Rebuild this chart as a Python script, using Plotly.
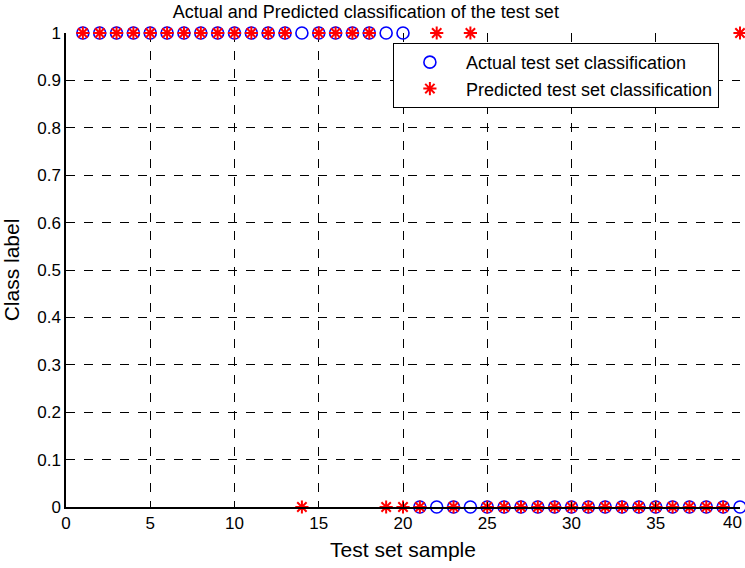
import plotly.graph_objects as go

samples = list(range(1, 41))
actual = [1] * 20 + [0] * 20
predicted = [1] * 13 + [0] + [1] * 4 + [0, 0, 0, 1, 0, 1] + [0] * 15 + [1]

x_ticks = list(range(0, 41, 5))
x_tick_labels = ["0", "5", "10", "15", "20", "25", "30", "35", "40"]
y_ticks = [round(i * 0.1, 1) for i in range(11)]
y_tick_labels = ["0", "0.1", "0.2", "0.3", "0.4", "0.5", "0.6", "0.7", "0.8", "0.9", "1"]

fig = go.Figure()
fig.add_trace(go.Scatter(
    x=samples, y=actual, mode="markers", name="Actual test set classification",
    marker=dict(symbol="circle-open", size=12, color="#0000ff", line=dict(width=1.6, color="#0000ff")),
    cliponaxis=False,
))
fig.add_trace(go.Scatter(
    x=samples, y=predicted, mode="markers", name="Predicted test set classification",
    marker=dict(symbol="asterisk-open", size=11, color="#ff0000", line=dict(width=2, color="#ff0000")),
    cliponaxis=False,
))

font = "Liberation Sans, Arial, sans-serif"
axis_common = dict(
    showgrid=True, gridcolor="black", griddash="dash", gridwidth=1,
    showline=True, linecolor="black", linewidth=1.5,
    ticks="inside", ticklen=5, tickcolor="black", tickwidth=1,
    zeroline=False, automargin=False,
    tickfont=dict(size=17, color="black", family=font),
)
# last x tick label is placed right-aligned (as in the reference) so it stays inside the page
fig.update_xaxes(range=[0, 40], tickvals=x_ticks, ticktext=x_tick_labels[:-1] + [""], **axis_common,
                 title=dict(text="Test set sample", font=dict(size=21, color="black", family=font), standoff=10))
fig.update_yaxes(range=[0, 1], tickvals=y_ticks, ticktext=y_tick_labels, **axis_common,
                 title=dict(text="Class label", font=dict(size=21, color="black", family=font), standoff=12))

fig.add_annotation(x=x_ticks[-1], y=y_ticks[0], xref="x", yref="y", text=x_tick_labels[-1],
                   showarrow=False, xanchor="right", yanchor="top", xshift=4, yshift=-4,
                   font=dict(size=17, color="black", family=font))

fig.update_layout(
    width=745, height=568,
    margin=dict(l=66, r=5, t=33, b=61),
    paper_bgcolor="white", plot_bgcolor="white",
    title=dict(text="Actual and Predicted classification of the test set",
               x=0.491, xanchor="center", xref="container", y=0.979, yanchor="middle",
               font=dict(size=18, color="black", family=font)),
    legend=dict(x=0.485, y=0.979, xanchor="left", yanchor="top",
                bordercolor="black", borderwidth=1, bgcolor="white",
                itemwidth=62,
                font=dict(size=18, color="black", family=font)),
    showlegend=True,
)

fig.write_html("out.html", config={"displayModeBar": False},
               post_script="document.body.style.margin='0';")
